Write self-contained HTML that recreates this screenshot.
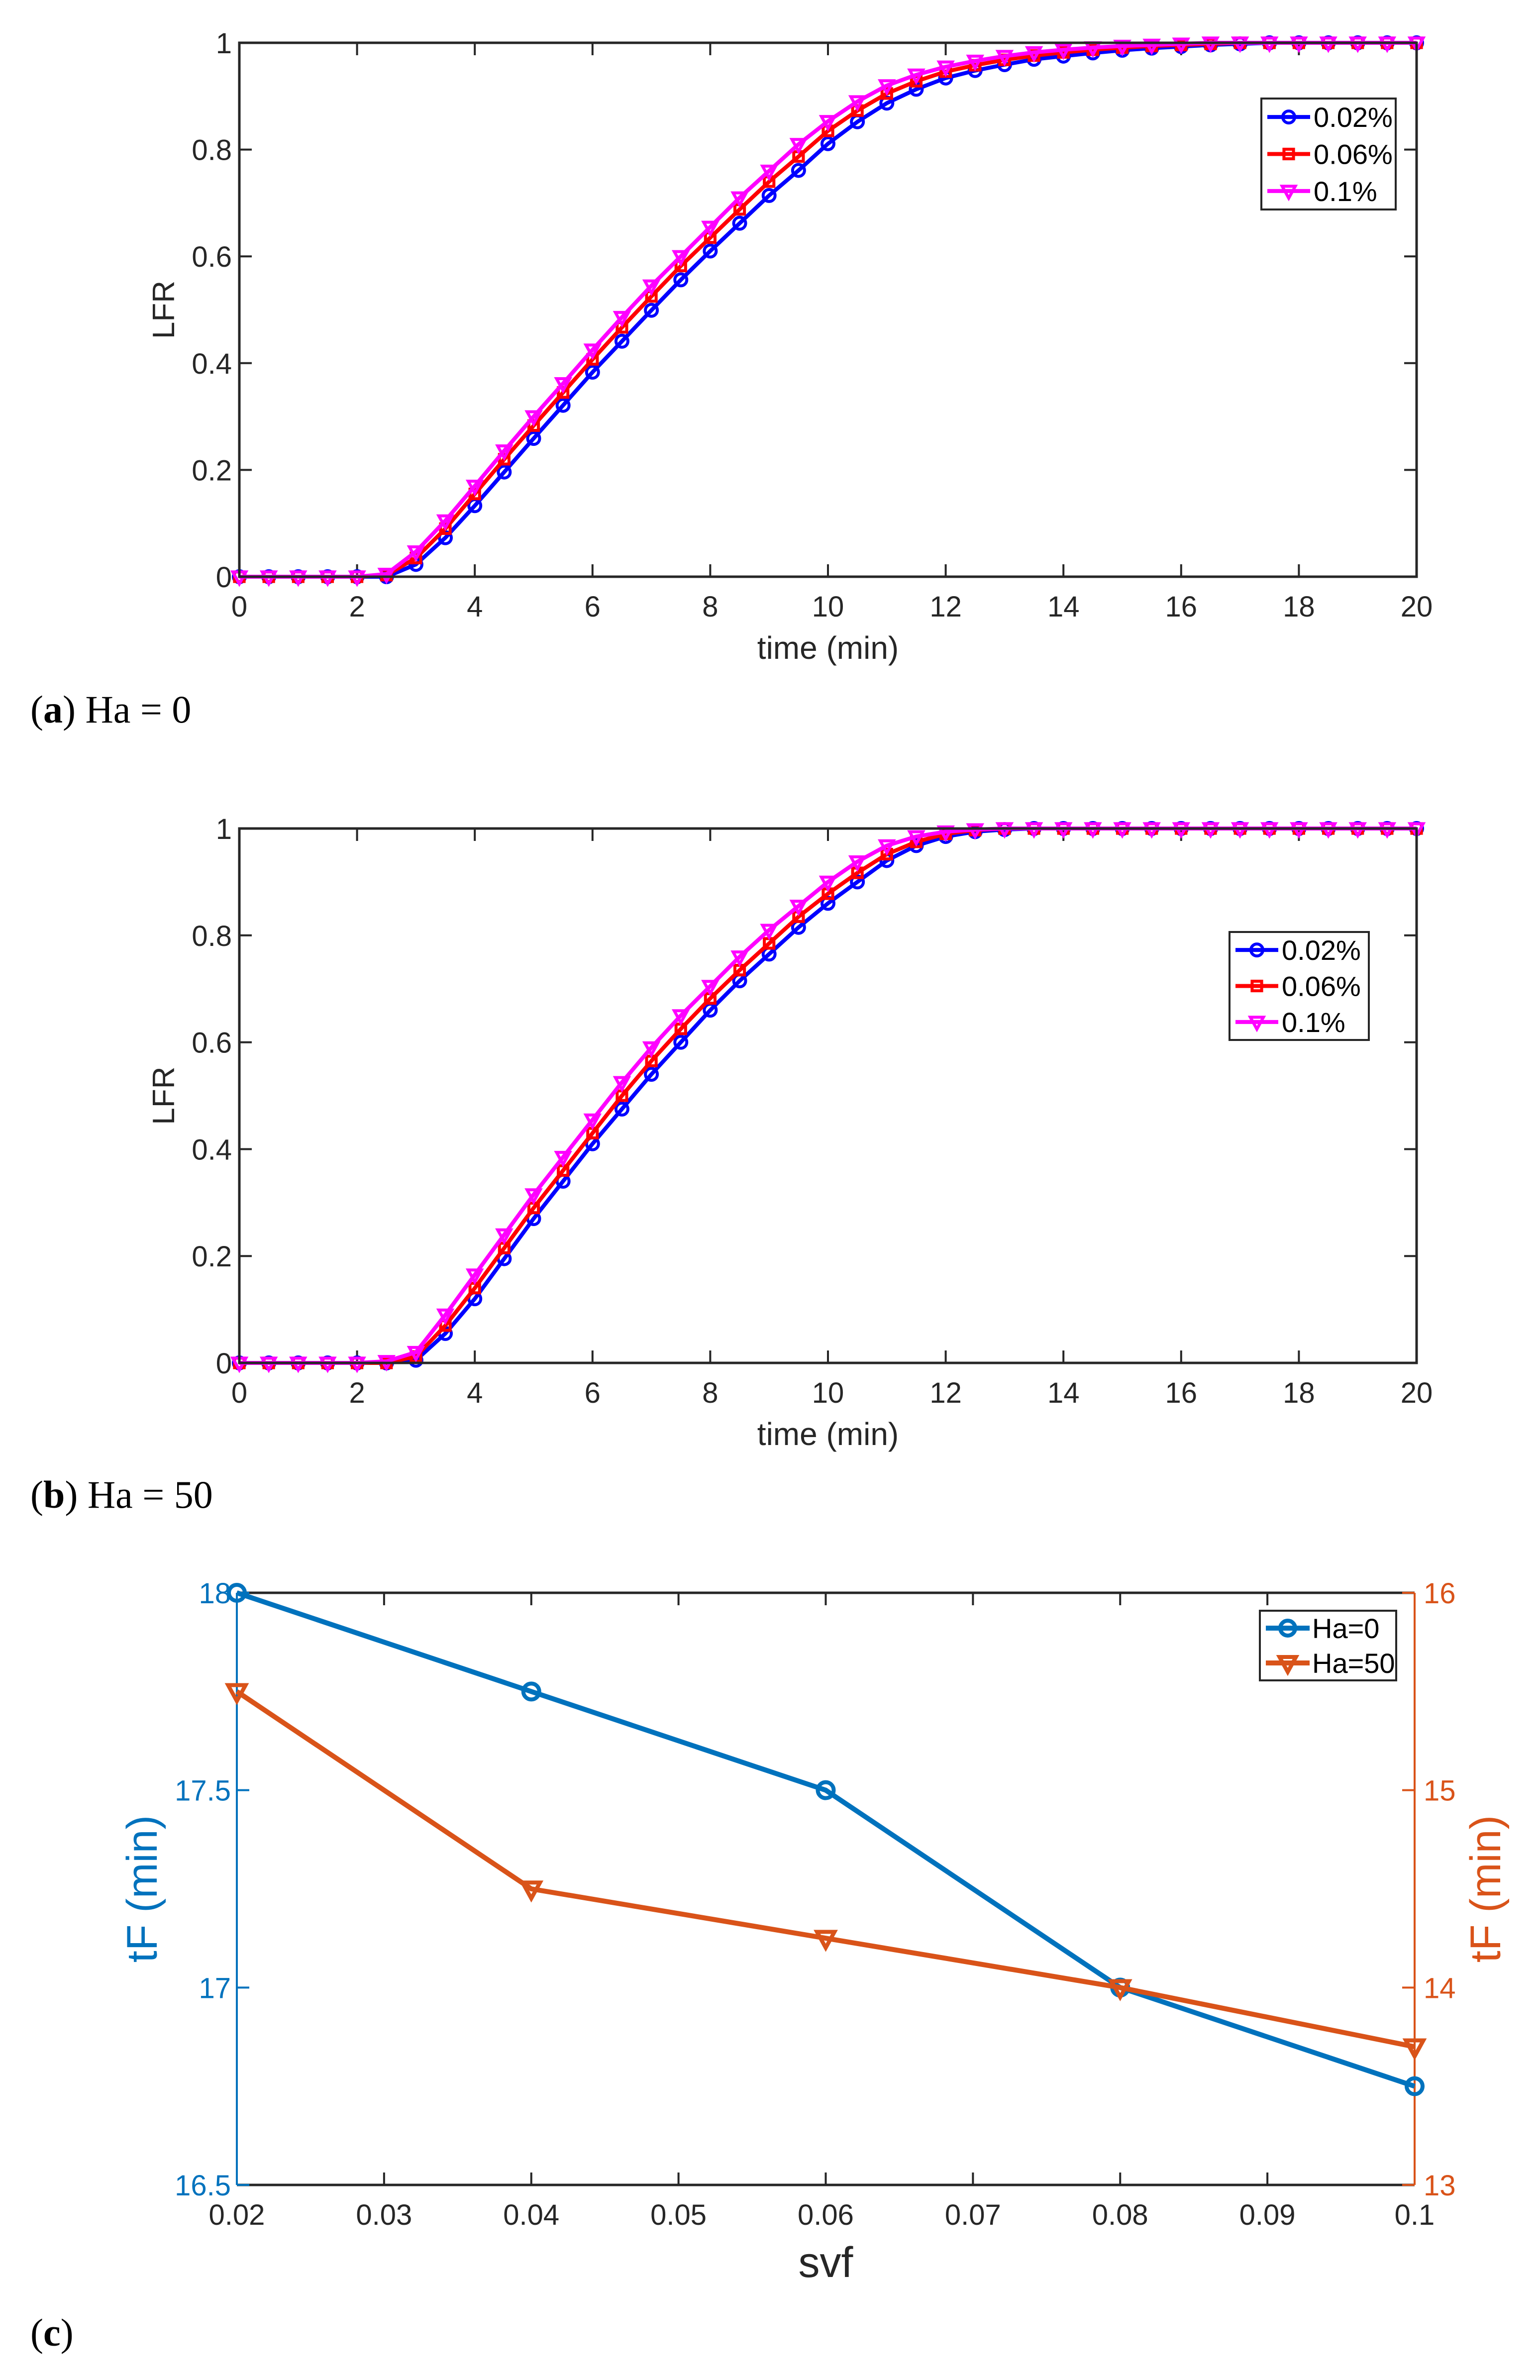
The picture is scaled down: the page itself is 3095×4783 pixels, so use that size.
<!DOCTYPE html>
<html><head><meta charset="utf-8"><style>
html,body{margin:0;padding:0;background:#fff}
svg{display:block}
text{font-family:"Liberation Sans",sans-serif}
.cap{font-family:"Liberation Serif",serif;font-size:78px;fill:#000}
</style></head><body>
<svg id="fig" xmlns="http://www.w3.org/2000/svg" width="3095" height="4783" viewBox="0 0 3095 4783">
<g id="pa"></g>
<g id="pb"></g>
<g id="pc"></g>
<text class="cap" x="61" y="1452">(<tspan font-weight="bold">a</tspan>) Ha = 0</text>
<text class="cap" x="61" y="3030">(<tspan font-weight="bold">b</tspan>) Ha = 50</text>
<text class="cap" x="61" y="4714">(<tspan font-weight="bold">c</tspan>)</text>
</svg>
<script>
const timeA=[0,0.5,1,1.5,2,2.5,3,3.5,4,4.5,5,5.5,6,6.5,7,7.5,8,8.5,9,9.5,10,10.5,11,11.5,12,12.5,13,13.5,14,14.5,15,15.5,16,16.5,17,17.5,18,18.5,19,19.5,20];
const a002=[0,0,0,0,0,0,0.023,0.073,0.133,0.196,0.259,0.321,0.383,0.441,0.499,0.556,0.610,0.662,0.714,0.761,0.811,0.852,0.887,0.913,0.934,0.948,0.959,0.969,0.975,0.981,0.986,0.990,0.993,0.996,0.998,1,1,1,1,1,1];
const a006=[0,0,0,0,0,0.003,0.035,0.090,0.155,0.220,0.283,0.345,0.407,0.467,0.525,0.582,0.635,0.688,0.740,0.787,0.835,0.873,0.905,0.928,0.946,0.958,0.968,0.976,0.982,0.987,0.991,0.994,0.996,0.998,1,1,1,1,1,1,1];
const a01=[0,0,0,0,0,0.005,0.047,0.105,0.170,0.236,0.300,0.362,0.425,0.486,0.545,0.600,0.655,0.710,0.760,0.810,0.853,0.890,0.920,0.940,0.955,0.966,0.975,0.982,0.987,0.991,0.994,0.996,0.998,1,1,1,1,1,1,1,1];
const b002=[0,0,0,0,0,0,0.005,0.055,0.120,0.195,0.270,0.340,0.410,0.475,0.540,0.600,0.660,0.715,0.765,0.815,0.860,0.900,0.940,0.968,0.985,0.994,0.998,1,1,1,1,1,1,1,1,1,1,1,1,1,1];
const b006=[0,0,0,0,0,0,0.012,0.070,0.140,0.215,0.290,0.360,0.430,0.500,0.565,0.625,0.682,0.735,0.785,0.835,0.878,0.917,0.952,0.975,0.990,0.997,1,1,1,1,1,1,1,1,1,1,1,1,1,1,1];
const b01=[0,0,0,0,0,0.003,0.020,0.090,0.165,0.240,0.315,0.385,0.455,0.525,0.590,0.650,0.705,0.760,0.810,0.855,0.900,0.938,0.968,0.985,0.994,0.998,1,1,1,1,1,1,1,1,1,1,1,1,1,1,1];
const xTicksAB=[0,2,4,6,8,10,12,14,16,18,20];
const yTicksAB=[0,0.2,0.4,0.6,0.8,1];
const yTickLabelsAB=["0","0.2","0.4","0.6","0.8","1"];
const legendAB=["0.02%","0.06%","0.1%"];
const svf=[0.02,0.04,0.06,0.08,0.1];
const tfHa0=[18,17.75,17.5,17,16.75];
const tfHa50=[15.5,14.5,14.25,14,13.7];
const xTicksC=[0.02,0.03,0.04,0.05,0.06,0.07,0.08,0.09,0.1];
const yTicksCL=[16.5,17,17.5,18];
const yTicksCR=[13,14,15,16];
const legendC=["Ha=0","Ha=50"];

const NS="http://www.w3.org/2000/svg";
function mk(parent,tag,attrs){const e=document.createElementNS(NS,tag);for(const k in attrs)e.setAttribute(k,attrs[k]);parent.appendChild(e);return e;}
function txt(parent,x,y,s,size,fill,anchor,extra){const t=mk(parent,'text',Object.assign({x:x,y:y,'font-size':size,fill:fill,'text-anchor':anchor||'middle'},extra||{}));t.textContent=s;return t;}
function marker(g,type,x,y,c,r,sw){
  if(type==='o'){return mk(g,'circle',{cx:x,cy:y,r:r,fill:'none',stroke:c,'stroke-width':sw});}
  if(type==='s'){return mk(g,'rect',{x:x-r*0.8,y:y-r*0.8,width:r*1.6,height:r*1.6,fill:'none',stroke:c,'stroke-width':sw});}
  if(type==='v'){return mk(g,'polygon',{points:`${x-r*1.1},${y-r*0.8} ${x+r*1.1},${y-r*0.8} ${x},${y+r*1.2}`,fill:'none',stroke:c,'stroke-width':sw});}
}
function lfrChart(g,top,bot,series,leg){
  const L=481,R=2847;
  const sx=v=>L+(v-0)/(20-0)*(R-L);
  const sy=v=>bot-(v-0)/(1-0)*(bot-top);
  const axc='#262626';
  xTicksAB.forEach((t,i)=>{const x=sx(t);
    const tk=mk(g,'path',{d:`M${x},${bot}v-25M${x},${top}v25`,stroke:axc,'stroke-width':4});
    
    const tl=txt(g,x,bot+80,String(t),58,axc);
    });
  yTicksAB.forEach((t,i)=>{const y=sy(t);
    const tk=mk(g,'path',{d:`M${L},${y}h25M${R},${y}h-25`,stroke:axc,'stroke-width':4});
    
    const tl=txt(g,L-15,y+21,yTickLabelsAB[i],58,axc,'end');
    });
  const xt=txt(g,(L+R)/2,bot+165,'time (min)',64,axc);
  
  const yt=txt(g,0,0,'LFR',62,axc,'middle',{transform:`translate(350,${(top+bot)/2}) rotate(-90)`});
  
  series.forEach(s=>{
    const sg=mk(g,'g',{});
    
    const pts=timeA.map((t,i)=>sx(t)+','+sy(s.vals[i])).join(' ');
    const pl=mk(sg,'polyline',{points:pts,fill:'none',stroke:s.c,'stroke-width':8,'stroke-linejoin':'round'});
    
    timeA.forEach((t,i)=>{const m=marker(sg,s.m,sx(t),sy(s.vals[i]),s.c,12,6);
      });
  });
  const box=mk(g,'rect',{x:L,y:top,width:R-L,height:bot-top,fill:'none',stroke:axc,'stroke-width':5});
  
  const lg=mk(g,'g',{});
  
  const lb=mk(lg,'rect',{x:leg.x,y:leg.y,width:leg.w,height:leg.h,fill:'#fff',stroke:axc,'stroke-width':4});
  
  series.forEach((s,i)=>{const y=leg.y+leg.h*(i+0.5)/3;
    const e=mk(lg,'g',{});
    
    mk(e,'line',{x1:leg.x+12,x2:leg.x+98,y1:y,y2:y,stroke:s.c,'stroke-width':8});
    marker(e,s.m,leg.x+55,y,s.c,12,6);
    txt(e,leg.x+105,y+20,legendAB[i],56,'#000','start');});
}
lfrChart(document.getElementById('pa'),86,1159,[
 {name:'0.02',vals:a002,c:'#0000ff',m:'o'},{name:'0.06',vals:a006,c:'#ff0000',m:'s'},{name:'0.1',vals:a01,c:'#ff00ff',m:'v'}],
 {x:2535,y:198,w:270,h:223});
lfrChart(document.getElementById('pb'),1665,2739,[
 {name:'0.02',vals:b002,c:'#0000ff',m:'o'},{name:'0.06',vals:b006,c:'#ff0000',m:'s'},{name:'0.1',vals:b01,c:'#ff00ff',m:'v'}],
 {x:2471,y:1873,w:280,h:217});

(function(){
  const g=document.getElementById('pc');
  const L=476,R=2843,top=3201,bot=4391;
  const blue='#0072bd',org='#d95319',axc='#262626';
  const sx=v=>L+(v-0.02)/(0.1-0.02)*(R-L);
  const syL=v=>bot-(v-16.5)/(18-16.5)*(bot-top);
  const syR=v=>bot-(v-13)/(16-13)*(bot-top);
  xTicksC.forEach(t=>{const x=sx(t);
    const tk=mk(g,'path',{d:`M${x},${bot}v-25M${x},${top}v25`,stroke:axc,'stroke-width':4});
    
    const tl=txt(g,x,bot+80,String(t),58,axc);
    });
  mk(g,'line',{x1:L,x2:R,y1:top,y2:top,stroke:axc,'stroke-width':5});
  mk(g,'line',{x1:L,x2:R,y1:bot,y2:bot,stroke:axc,'stroke-width':5});
  const la=mk(g,'line',{x1:L,x2:L,y1:top,y2:bot,stroke:blue,'stroke-width':4});
  
  const ra=mk(g,'line',{x1:R,x2:R,y1:top,y2:bot,stroke:org,'stroke-width':4});
  
  yTicksCL.forEach(t=>{const y=syL(t);
    mk(g,'path',{d:`M${L},${y}h25`,stroke:blue,'stroke-width':4});
    const tl=txt(g,L-12,y+21,String(t),58,blue,'end');
    });
  yTicksCR.forEach(t=>{const y=syR(t);
    mk(g,'path',{d:`M${R},${y}h-25`,stroke:org,'stroke-width':4});
    const tl=txt(g,R+18,y+21,String(t),58,org,'start');
    });
  const xt=txt(g,(L+R)/2,bot+185,'svf',86,axc);
  
  const yl=txt(g,0,0,'tF (min)',86,blue,'middle',{transform:`translate(315,${(top+bot)/2}) rotate(-90)`});
  
  const yr=txt(g,0,0,'tF (min)',86,org,'middle',{transform:`translate(3015,${(top+bot)/2}) rotate(-90)`});
  
  const s1=mk(g,'g',{});
  
  mk(s1,'polyline',{points:svf.map((v,i)=>sx(v)+','+syL(tfHa0[i])).join(' '),fill:'none',stroke:blue,'stroke-width':10,'stroke-linejoin':'round'});
  svf.forEach((v,i)=>{const m=marker(s1,'o',sx(v),syL(tfHa0[i]),blue,16,8);
    });
  const s2=mk(g,'g',{});
  
  mk(s2,'polyline',{points:svf.map((v,i)=>sx(v)+','+syR(tfHa50[i])).join(' '),fill:'none',stroke:org,'stroke-width':10,'stroke-linejoin':'round'});
  svf.forEach((v,i)=>{const m=marker(s2,'v',sx(v),syR(tfHa50[i]),org,16,8);
    });
  const lg=mk(g,'g',{});
  
  const lx=2532,ly=3237,lw=274,lh=140;
  mk(lg,'rect',{x:lx,y:ly,width:lw,height:lh,fill:'#fff',stroke:axc,'stroke-width':4});
  [[blue,'o'],[org,'v']].forEach((d,i)=>{const y=ly+lh*(i+0.5)/2;
    const e=mk(lg,'g',{});
    
    mk(e,'line',{x1:lx+12,x2:lx+100,y1:y,y2:y,stroke:d[0],'stroke-width':10});
    marker(e,d[1],lx+56,y,d[0],15,8);
    txt(e,lx+105,y+20,legendC[i],56,'#000','start');});
})();
</script>
</body></html>
